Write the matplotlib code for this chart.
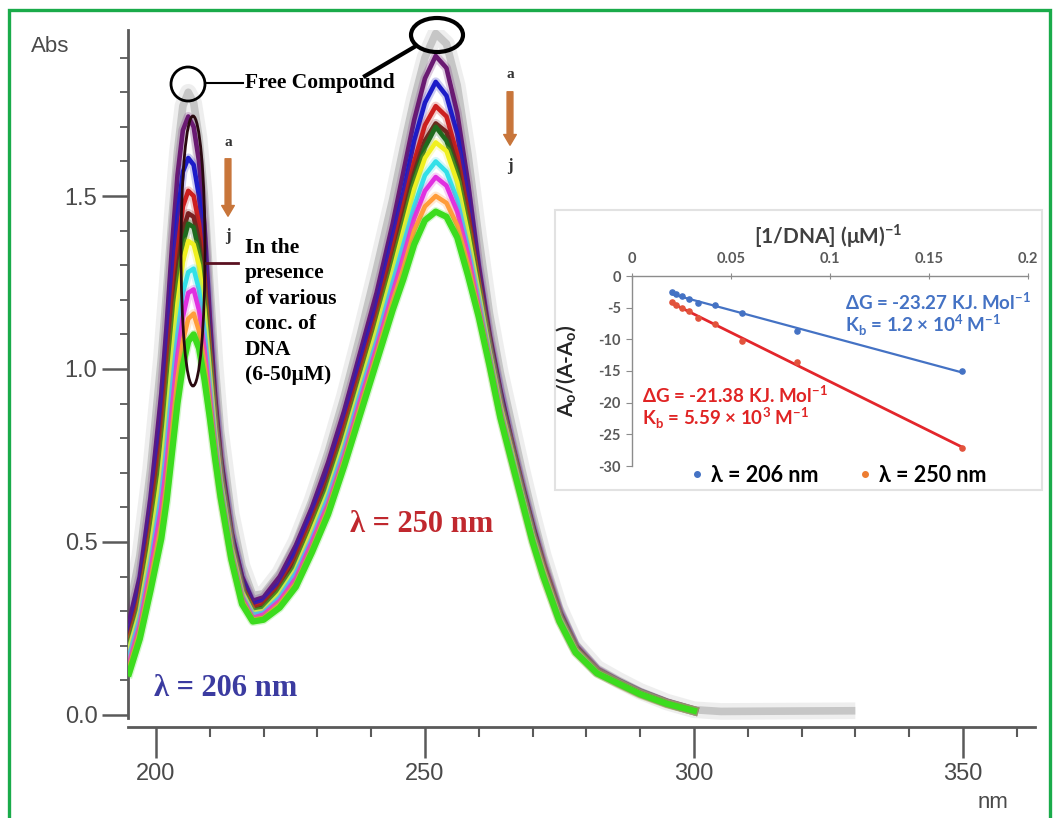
import numpy as np
import matplotlib
matplotlib.use("Agg")
import matplotlib.pyplot as plt
from matplotlib.patches import Rectangle, Ellipse, FancyArrowPatch
from matplotlib.lines import Line2D

W, H = 1056, 818

# ---- UV spectra (wavelength in nm, absorbance) ----
wl = [195, 197, 199, 201, 202, 203, 204, 205, 206, 207,
      208, 209, 210, 211, 212, 214, 216, 218, 220, 223,
      226, 229, 232, 235, 238, 241, 244, 246, 248, 250,
      252, 254, 256, 258, 260, 262, 264, 266, 268, 270,
      272, 275, 278, 282, 286, 290, 295, 300, 305, 330]

abs_free = [0.30, 0.46, 0.71, 1.03, 1.23, 1.44, 1.63, 1.76, 1.80, 1.77,
            1.67, 1.50, 1.25, 1.01, 0.82, 0.58, 0.43, 0.345, 0.35, 0.41,
            0.50, 0.62, 0.76, 0.92, 1.10, 1.29, 1.49, 1.64, 1.78, 1.90,
            1.97, 1.94, 1.82, 1.62, 1.38, 1.16, 0.99, 0.85, 0.71, 0.58,
            0.46, 0.31, 0.205, 0.135, 0.10, 0.068, 0.037, 0.015, 0.010, 0.012]

# DNA titration a..j (same grid, up to 300 nm)
abs_a = [0.27, 0.40, 0.63, 0.93, 1.13, 1.36, 1.56, 1.69, 1.73, 1.70,
         1.60, 1.42, 1.15, 0.92, 0.75, 0.53, 0.40, 0.33, 0.34, 0.40,
         0.49, 0.60, 0.73, 0.88, 1.05, 1.22, 1.42, 1.57, 1.72, 1.84,
         1.905, 1.87, 1.74, 1.54, 1.30, 1.10, 0.94, 0.80, 0.67, 0.55,
         0.44, 0.30, 0.20, 0.13, 0.095, 0.065, 0.035, 0.012]
abs_b = [0.24, 0.37, 0.58, 0.85, 1.04, 1.25, 1.44, 1.57, 1.61, 1.59,
         1.50, 1.34, 1.10, 0.89, 0.73, 0.52, 0.39, 0.32, 0.33, 0.38,
         0.47, 0.58, 0.70, 0.85, 1.02, 1.18, 1.38, 1.51, 1.66, 1.77,
         1.83, 1.79, 1.68, 1.49, 1.27, 1.08, 0.93, 0.79, 0.66, 0.54,
         0.43, 0.295, 0.196, 0.128, 0.094, 0.064, 0.034, 0.012]
abs_c = [0.22, 0.34, 0.54, 0.79, 0.96, 1.16, 1.34, 1.47, 1.515, 1.50,
         1.42, 1.27, 1.05, 0.86, 0.71, 0.50, 0.37, 0.31, 0.32, 0.37,
         0.45, 0.56, 0.68, 0.83, 0.99, 1.15, 1.34, 1.47, 1.60, 1.705,
         1.76, 1.73, 1.62, 1.45, 1.25, 1.07, 0.91, 0.78, 0.65, 0.53,
         0.43, 0.29, 0.193, 0.127, 0.093, 0.063, 0.034, 0.012]
abs_d = [0.205, 0.32, 0.51, 0.75, 0.91, 1.10, 1.28, 1.40, 1.45, 1.44,
         1.37, 1.23, 1.03, 0.84, 0.70, 0.50, 0.37, 0.30, 0.31, 0.36,
         0.44, 0.54, 0.67, 0.81, 0.97, 1.13, 1.31, 1.44, 1.565, 1.66,
         1.71, 1.685, 1.585, 1.42, 1.235, 1.06, 0.905, 0.775, 0.65, 0.53,
         0.42, 0.287, 0.191, 0.126, 0.093, 0.063, 0.034, 0.012]
abs_e = [0.20, 0.31, 0.50, 0.73, 0.885, 1.07, 1.24, 1.36, 1.42, 1.41,
         1.34, 1.20, 1.01, 0.83, 0.69, 0.49, 0.36, 0.30, 0.31, 0.36,
         0.43, 0.54, 0.66, 0.80, 0.96, 1.12, 1.30, 1.42, 1.55, 1.64,
         1.70, 1.66, 1.57, 1.41, 1.23, 1.06, 0.90, 0.77, 0.645, 0.525,
         0.42, 0.286, 0.19, 0.125, 0.093, 0.063, 0.034, 0.012]
abs_f = [0.19, 0.30, 0.48, 0.695, 0.845, 1.02, 1.19, 1.31, 1.37, 1.36,
         1.30, 1.17, 0.99, 0.82, 0.68, 0.485, 0.355, 0.295, 0.30, 0.35,
         0.42, 0.53, 0.645, 0.79, 0.95, 1.11, 1.28, 1.40, 1.52, 1.61,
         1.655, 1.63, 1.54, 1.39, 1.22, 1.05, 0.895, 0.77, 0.64, 0.52,
         0.42, 0.283, 0.189, 0.124, 0.092, 0.062, 0.033, 0.012]
abs_g = [0.17, 0.28, 0.44, 0.64, 0.78, 0.95, 1.10, 1.22, 1.28, 1.29,
         1.23, 1.11, 0.95, 0.80, 0.67, 0.475, 0.345, 0.29, 0.295, 0.34,
         0.41, 0.51, 0.63, 0.77, 0.93, 1.08, 1.25, 1.36, 1.47, 1.56,
         1.60, 1.57, 1.49, 1.35, 1.20, 1.04, 0.885, 0.76, 0.635, 0.515,
         0.41, 0.28, 0.186, 0.123, 0.092, 0.062, 0.033, 0.012]
abs_h = [0.15, 0.26, 0.42, 0.60, 0.73, 0.89, 1.04, 1.15, 1.22, 1.23,
         1.17, 1.06, 0.92, 0.78, 0.655, 0.47, 0.34, 0.28, 0.29, 0.33,
         0.395, 0.50, 0.61, 0.75, 0.91, 1.06, 1.22, 1.325, 1.435, 1.515,
         1.555, 1.53, 1.455, 1.33, 1.18, 1.03, 0.88, 0.75, 0.63, 0.51,
         0.41, 0.276, 0.184, 0.122, 0.091, 0.061, 0.033, 0.012]
abs_i = [0.135, 0.24, 0.39, 0.55, 0.67, 0.82, 0.97, 1.08, 1.145, 1.16,
         1.11, 1.015, 0.89, 0.76, 0.64, 0.46, 0.33, 0.275, 0.28, 0.32,
         0.38, 0.48, 0.595, 0.735, 0.89, 1.04, 1.195, 1.29, 1.40, 1.47,
         1.50, 1.48, 1.415, 1.30, 1.165, 1.02, 0.87, 0.745, 0.625, 0.505,
         0.40, 0.273, 0.182, 0.121, 0.09, 0.06, 0.032, 0.012]
abs_j = [0.12, 0.22, 0.36, 0.51, 0.62, 0.76, 0.90, 1.01, 1.08, 1.10,
         1.06, 0.97, 0.86, 0.74, 0.63, 0.45, 0.32, 0.27, 0.275, 0.31,
         0.37, 0.47, 0.58, 0.72, 0.87, 1.02, 1.17, 1.26, 1.36, 1.43,
         1.455, 1.44, 1.38, 1.27, 1.15, 1.01, 0.86, 0.74, 0.62, 0.50,
         0.40, 0.27, 0.18, 0.12, 0.09, 0.06, 0.032, 0.012]

dna_curves = [abs_a, abs_b, abs_c, abs_d, abs_e, abs_f, abs_g, abs_h, abs_i, abs_j]
dna_colors = ["#6a1a72", "#1c1cc8", "#cc1f1f", "#7a2020", "#1e6b1e",
              "#f0f020", "#33e0e8", "#e030e0", "#ff9d3a", "#3cdc1e"]

x_major = [200, 250, 300, 350]
y_major = [0.0, 0.5, 1.0, 1.5]
y_major_labels = ["0.0", "0.5", "1.0", "1.5"]

# ---- inset: Benesi-Hildebrand plot ----
inv_dna = [0.0200, 0.0222, 0.0250, 0.0286, 0.0333, 0.0417, 0.0556, 0.0833, 0.1667]
ratio_206 = [-2.6, -2.9, -3.2, -3.6, -4.3, -4.6, -5.9, -8.7, -15.0]
ratio_250 = [-4.1, -4.6, -5.0, -5.6, -6.6, -7.5, -10.3, -13.6, -27.1]
inset_xticks = [0, 0.05, 0.1, 0.15, 0.2]
inset_xticklabels = ["0", "0.05", "0.1", "0.15", "0.2"]
inset_yticks = [0, -5, -10, -15, -20, -25, -30]

plt.rcParams["font.family"] = ["Liberation Sans", "DejaVu Sans"]
plt.rcParams["axes.unicode_minus"] = False
SERIF = ["Liberation Serif", "DejaVu Serif"]
CAL = ["Lato", "DejaVu Sans"]


def fp(px, py):
    # pixel position in the picture -> figure fraction
    return (px / W, 1 - py / H)


fig = plt.figure(figsize=(W / 100, H / 100), dpi=100)
fig.patch.set_facecolor("white")

ax = fig.add_axes([128 / W, 1 - 727 / H, (1035 - 128) / W, (727 - 30) / H])
ax.set_xlim(194.8, 363.4)
ax.set_ylim(-0.035, 1.98)

# free compound: pale grey band behind everything
ax.plot(wl, abs_free, color="#dedede", lw=12, alpha=0.5, solid_capstyle="butt", zorder=1)
ax.plot(wl, abs_free, color="#c6c6c6", lw=5.5, solid_capstyle="butt", zorder=2)
wl_dna = wl[:len(abs_a)]
for k, (vals, col) in enumerate(zip(dna_curves, dna_colors)):
    ax.plot(wl_dna, vals, color=col, lw=6.5, alpha=0.22, zorder=3 + k)
    ax.plot(wl_dna, vals, color=col, lw=3.3 if k < 9 else 4.5, zorder=3 + k)

for s in ["top", "right"]:
    ax.spines[s].set_visible(False)
ax.spines["left"].set_bounds(-0.01, 1.98)
for s in ["left", "bottom"]:
    ax.spines[s].set_color("#5a5a5a")
    ax.spines[s].set_linewidth(2)

ax.set_xticks(x_major)
ax.set_xticks(np.arange(200, 361, 10), minor=True)
ax.set_yticks(y_major)
ax.set_yticklabels(y_major_labels)
ax.set_yticks(np.arange(0.1, 1.95, 0.1), minor=True)
ax.tick_params(axis="x", which="major", length=22, width=1.8, color="#5a5a5a",
               labelsize=17, labelcolor="#4a4a4a", pad=4)
ax.tick_params(axis="x", which="minor", length=7, width=1.5, color="#5a5a5a")
ax.tick_params(axis="y", which="major", length=19, width=1.8, color="#5a5a5a",
               labelsize=17, labelcolor="#4a4a4a", pad=3)
ax.tick_params(axis="y", which="minor", length=6, width=1.3, color="#5a5a5a")

fig.text(*fp(50, 47), "Abs", fontsize=16, color="#4a4a4a", ha="center", va="center")
fig.text(*fp(993, 803), "nm", fontsize=16, color="#4a4a4a", ha="center", va="center")

# annotations on the spectra
fig.add_artist(Ellipse(fp(188, 84), 34 / W, 34 / H, transform=fig.transFigure,
                       fill=False, edgecolor="black", lw=2, zorder=5))
fig.add_artist(Line2D([205 / W, 243 / W], [1 - 83 / H, 1 - 83 / H], transform=fig.transFigure,
                      color="black", lw=1.5, zorder=5))
fig.text(*fp(245, 83), "Free Compound", family=SERIF, fontweight="bold", fontsize=15.5,
         ha="left", va="center", zorder=5)

fig.add_artist(Ellipse(fp(437, 35), 52 / W, 34 / H, transform=fig.transFigure,
                       fill=False, edgecolor="black", lw=3, zorder=5))
fig.add_artist(Line2D([365 / W, 416 / W], [1 - 76 / H, 1 - 46 / H], transform=fig.transFigure,
                      color="black", lw=3, zorder=5))

fig.add_artist(Ellipse(fp(193, 251), 24 / W, 270 / H, transform=fig.transFigure,
                       fill=False, edgecolor="#2a0a10", lw=2, zorder=5))
fig.add_artist(Line2D([206 / W, 238 / W], [1 - 263 / H, 1 - 263 / H], transform=fig.transFigure,
                      color="#5a1020", lw=2, zorder=5))
fig.text(*fp(245, 238), "In the\npresence\nof various\nconc. of\nDNA\n(6-50μM)",
         family=SERIF, fontweight="bold", fontsize=15.5, linespacing=1.36,
         ha="left", va="top", zorder=5)

arrow_kw = dict(arrowstyle="simple,head_width=0.65,head_length=0.55,tail_width=0.3",
                color="#c8753a", mutation_scale=14)
for x0, ya, yb, ytop, ybot in [(228, 156, 219, 142, 236), (510, 89, 148, 75, 166)]:
    fig.add_artist(FancyArrowPatch(fp(x0, ya), fp(x0, yb), transform=fig.transFigure,
                                   zorder=5, **arrow_kw))
    fig.text(*fp(x0, ytop), "a", family=SERIF, fontweight="bold", fontsize=11,
             color="#333333", ha="center", va="center", zorder=5)
    fig.text(*fp(x0, ybot), "j", family=SERIF, fontweight="bold", fontsize=12,
             color="#333333", ha="center", va="center", zorder=5)

fig.text(*fp(422, 525), "λ = 250 nm", family=SERIF, fontweight="bold", fontsize=22,
         color="#c0282e", ha="center", va="center", zorder=5)
fig.text(*fp(226, 688), "λ = 206 nm", family=SERIF, fontweight="bold", fontsize=22,
         color="#3b3ba0", ha="center", va="center", zorder=5)

# ---- inset ----
fig.add_artist(Rectangle(fp(555, 490), 487 / W, 280 / H, transform=fig.transFigure,
                         facecolor="white", edgecolor="#e2e2e2", lw=1.5, zorder=2))

ax_in = fig.add_axes([632 / W, 1 - 466 / H, (1028 - 632) / W, (466 - 276) / H])
ax_in.set_zorder(3)
ax_in.patch.set_alpha(0)
ax_in.set_xlim(0, 0.2)
ax_in.set_ylim(-30, 0)
for s in ["bottom", "right"]:
    ax_in.spines[s].set_visible(False)
for s in ["top", "left"]:
    ax_in.spines[s].set_color("#8c8c8c")
    ax_in.spines[s].set_linewidth(1)
ax_in.xaxis.tick_top()
ax_in.set_xticks(inset_xticks)
ax_in.set_xticklabels(inset_xticklabels)
ax_in.set_yticks(inset_yticks)
ax_in.tick_params(axis="x", direction="inout", length=5, color="#8c8c8c",
                  labelsize=10.5, labelcolor="#595959", pad=5)
ax_in.tick_params(axis="y", direction="out", length=4, color="#8c8c8c",
                  labelsize=10.5, labelcolor="#595959", pad=4)
for lab in ax_in.get_xticklabels() + ax_in.get_yticklabels():
    lab.set_family(CAL)
    lab.set_fontweight("bold")

ax_in.xaxis.set_label_position("top")
ax_in.set_xlabel("[1/DNA] (μM)$^{\\mathregular{-1}}$", family=CAL, fontsize=15,
                 color="#404040", fontweight="bold")
ax_in.xaxis.set_label_coords(0.495, 1.17)
ax_in.set_ylabel("A$_\\mathregular{o}$/(A-A$_\\mathregular{o}$)", family=CAL, fontsize=15,
                 color="#262626", fontweight="bold")
ax_in.yaxis.set_label_coords(-0.135, 0.5)

fit206 = np.polyfit(inv_dna, ratio_206, 1)
fit250 = np.polyfit(inv_dna, ratio_250, 1)
xs = np.array([min(inv_dna), max(inv_dna)])
ax_in.plot(xs, np.polyval(fit206, xs), color="#4472c4", lw=1.6, zorder=2)
ax_in.plot(xs, np.polyval(fit250, xs), color="#e3262b", lw=2, zorder=2)
ax_in.scatter(inv_dna, ratio_206, s=14, color="#4472c4", zorder=3, clip_on=False)
ax_in.scatter(inv_dna, ratio_250, s=14, color="#e2533c", zorder=3, clip_on=False)

note_kw = dict(family=CAL, fontweight="bold", fontsize=13.5, ha="left", va="center", zorder=4)
fig.text(*fp(845, 302), "ΔG = -23.27 KJ. Mol$^{\\mathregular{-1}}$", color="#4472c4", **note_kw)
fig.text(*fp(845, 325), "K$_\\mathregular{b}$ = 1.2 × 10$^\\mathregular{4}$ M$^\\mathregular{-1}$",
         color="#4472c4", **note_kw)
fig.text(*fp(642, 395), "ΔG = -21.38 KJ. Mol$^{\\mathregular{-1}}$", color="#e02424", **note_kw)
fig.text(*fp(642, 418), "K$_\\mathregular{b}$ = 5.59 × 10$^\\mathregular{3}$ M$^\\mathregular{-1}$",
         color="#e02424", **note_kw)

handles = [Line2D([], [], ls="", marker="o", ms=4, color="#4472c4"),
           Line2D([], [], ls="", marker="o", ms=4, color="#ed7d31")]
leg = fig.legend(handles, ["λ = 206 nm", "λ = 250 nm"], loc="center",
                 bbox_to_anchor=fp(838, 475), ncol=2, frameon=False,
                 prop={"family": CAL, "weight": "bold", "size": 15.5},
                 handletextpad=0.3, columnspacing=1.8, handlelength=0.7)
leg.set_zorder(4)

# green frame round the picture
fig.add_artist(Rectangle((9 / W, -0.02), (1050 - 9) / W, 1 - 10 / H + 0.02,
                         transform=fig.transFigure, fill=False, edgecolor="#1aab4a",
                         lw=2.4, zorder=6))

fig.savefig("out.png", dpi=100)
